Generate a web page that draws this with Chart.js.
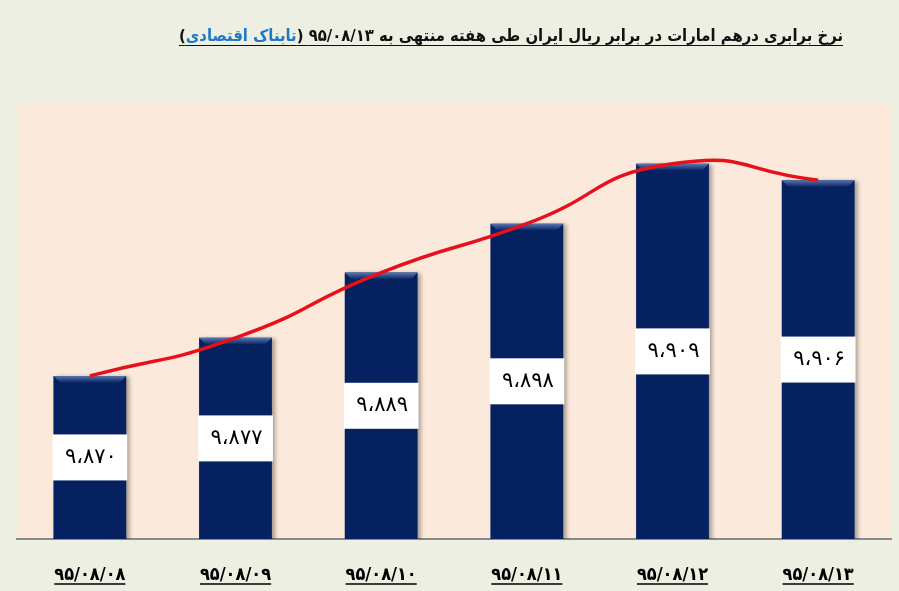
<!DOCTYPE html>
<html>
<head>
<meta charset="utf-8">
<script src="https://cdn.jsdelivr.net/npm/chart.js@4.4.1/dist/chart.umd.min.js"></script>
<style>
  html, body { margin: 0; padding: 0; background: #ECEFE1; }
  #wrap { position: relative; width: 899px; height: 591px; }
  #title {
    position: absolute; top: 26px; right: 56px;
    direction: rtl; white-space: nowrap;
    font-family: 'DejaVu Sans Condensed', 'DejaVu Sans', sans-serif; font-size: 16.5px; font-weight: bold;
    color: #111; text-decoration: underline; text-underline-offset: 4px;
  }
  #title span { color: #1f78c8; }
</style>
</head>
<body>
<div id="wrap">
  <div id="title">نرخ برابری درهم امارات در برابر ریال ایران طی هفته منتهی به ۹۵/۰۸/۱۳ (<span>تابناک اقتصادی</span>)</div>
  <canvas id="chart" width="899" height="591"></canvas>
</div>
<script>
const dates = ['۹۵/۰۸/۰۸', '۹۵/۰۸/۰۹', '۹۵/۰۸/۱۰', '۹۵/۰۸/۱۱', '۹۵/۰۸/۱۲', '۹۵/۰۸/۱۳'];
const rates = [9870, 9877, 9889, 9898, 9909, 9906];
const yMin = 9840;
const yMax = 9920;

const navy = '#052160';

function toFa(n) {
    const s = String(n).replace(/\d/g, d => '۰۱۲۳۴۵۶۷۸۹'[d]);
    return s.slice(0, 1) + '،' + s.slice(1);
}

// peach plot background
const plotBg = {
    id: 'plotBg',
    beforeDraw(chart) {
        const a = chart.chartArea;
        const ctx = chart.ctx;
        ctx.save();
        ctx.fillStyle = '#FBE9DB';
        ctx.fillRect(a.left, a.top, a.right - a.left, a.bottom - a.top);
        ctx.restore();
    }
};

// shadow under the bars + bevel on their tops
const barShadow = {
    id: 'barShadow',
    beforeDatasetDraw(chart, args) {
        if (args.meta.type !== 'bar') return;
        const ctx = chart.ctx;
        ctx.save();
        ctx.shadowColor = 'rgba(0,0,0,0.35)';
        ctx.shadowBlur = 4;
        ctx.shadowOffsetX = 3;
        ctx.shadowOffsetY = 1;
    },
    afterDatasetDraw(chart, args) {
        if (args.meta.type !== 'bar') return;
        const ctx = chart.ctx;
        ctx.restore();
        const ys = chart.scales.y;
        args.meta.data.forEach((el, i) => {
            const half = el.width / 2;
            const top = ys.getPixelForValue(rates[i]);
            const g = ctx.createLinearGradient(0, top, 0, top + 7);
            g.addColorStop(0, '#5a77b0');
            g.addColorStop(1, navy);
            ctx.save();
            ctx.fillStyle = g;
            ctx.beginPath();
            ctx.moveTo(el.x - half, top);
            ctx.lineTo(el.x + half, top);
            ctx.lineTo(el.x + half - 7, top + 7);
            ctx.lineTo(el.x - half + 7, top + 7);
            ctx.closePath();
            ctx.fill();
            ctx.restore();
        });
    }
};

// white value boxes in the middle of each bar, and underlined dates
const valueBoxes = {
    id: 'valueBoxes',
    afterDraw(chart) {
        const ctx = chart.ctx;
        const meta = chart.getDatasetMeta(0);
        const ys = chart.scales.y;
        const bottom = chart.chartArea.bottom;
        ctx.save();
        meta.data.forEach((el, i) => {
            const top = ys.getPixelForValue(rates[i]);
            const cy = (top + bottom) / 2;
            const w = el.width + 2;
            ctx.fillStyle = '#ffffff';
            ctx.fillRect(el.x - w / 2, cy - 23, w, 46);
            ctx.fillStyle = '#000';
            ctx.font = '21px "DejaVu Sans"';
            ctx.letterSpacing = '2px';
            ctx.textAlign = 'center';
            ctx.textBaseline = 'middle';
            ctx.fillText(toFa(rates[i]), el.x + 1, cy);
        });
        ctx.letterSpacing = '0px';
        const xs = chart.scales.x;
        const f = xs.options.ticks.font;
        ctx.font = 'bold ' + f.size + 'px ' + f.family;
        ctx.strokeStyle = '#000';
        ctx.lineWidth = 1.5;
        dates.forEach((d, i) => {
            const x = xs.getPixelForTick(i);
            const tw = ctx.measureText(d).width;
            ctx.beginPath();
            ctx.moveTo(x - tw / 2, 584);
            ctx.lineTo(x + tw / 2, 584);
            ctx.stroke();
        });
        ctx.restore();
    }
};

new Chart(document.getElementById('chart'), {
    data: {
        labels: dates,
        datasets: [
            {
                type: 'bar',
                data: rates,
                backgroundColor: navy,
                categoryPercentage: 1,
                barPercentage: 0.5,
                order: 1
            },
            {
                type: 'line',
                data: rates,
                borderColor: '#E8101A',
                borderWidth: 3.5,
                tension: 0.55,
                pointRadius: 0,
                fill: false,
                order: 0
            }
        ]
    },
    options: {
        responsive: false,
        animation: false,
        layout: { padding: { top: 104, left: 17, right: 8, bottom: 0 } },
        plugins: {
            legend: { display: false },
            tooltip: { enabled: false }
        },
        scales: {
            x: {
                grid: { display: false, drawTicks: false },
                border: { display: true, color: '#8a8a8a', width: 2 },
                ticks: {
                    padding: 26,
                    color: '#000',
                    font: { family: '"DejaVu Sans Condensed", "DejaVu Sans"', size: 18, weight: 'bold' }
                },
                afterFit(axis) { axis.height = 52; }
            },
            y: {
                display: false,
                min: yMin,
                max: yMax
            }
        }
    },
    plugins: [plotBg, barShadow, valueBoxes]
});
</script>
</body>
</html>
